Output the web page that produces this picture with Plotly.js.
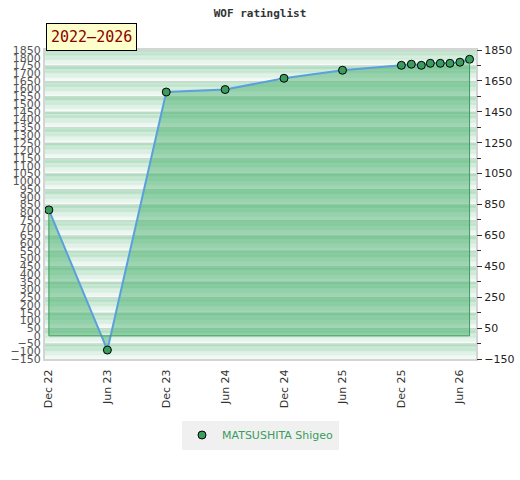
<!DOCTYPE html>
<html>
<head>
<meta charset="utf-8">
<script src="https://cdn.plot.ly/plotly-3.0.1.min.js"></script>
<style>html,body{margin:0;padding:0;background:#fff}#chart{width:520px;height:480px}</style>
</head>
<body>
<div id="chart"></div>
<script>
// ---- data ----
const dates = ['2022-12-01','2023-06-01','2023-12-01','2024-06-01','2024-12-01','2025-06-01',
               '2025-12-01','2026-01-01','2026-02-01','2026-03-01','2026-04-01','2026-05-01','2026-06-01','2026-07-01'];
const ratings = [815, -92, 1578, 1594, 1667, 1719, 1751, 1758, 1751, 1764, 1764, 1764, 1771, 1790];
const playerName = 'MATSUSHITA Shigeo';
const chartTitle = 'WOF ratinglist';
const periodLabel = '2022\u20132026';
const yMin = -150, yMax = 1850;

// ---- background stripes (style) ----
const shapes = [];
function mix(a, b, t) {
  return 'rgb(' + a.map((v, i) => Math.round(v + (b[i] - v) * t)).join(',') + ')';
}
const green = [168, 218, 186], white = [244, 250, 246];
for (let top = yMax; top > yMin; top -= 100) {
  const steps = 12, h = 100 / steps;
  for (let s = 0; s < steps; s++) {
    const y1 = top - s * h, y0 = y1 - h;
    shapes.push({type:'rect', xref:'paper', yref:'y', x0:0, x1:1, y0:y0, y1:y1,
      fillcolor: mix(green, white, s / (steps - 1)), line:{width:0}, layer:'below'});
  }
  shapes.push({type:'rect', xref:'paper', yref:'y', x0:0, x1:1, y0:top - 5, y1:top,
    fillcolor:'rgb(216,214,214)', line:{width:0}, layer:'below'});
}

const n = dates.length;
const markerStyle = {color:'#3a9d5d', size:8, line:{color:'#000', width:1}};
const traces = [
  {
    x: dates, y: ratings, type:'scatter', mode:'lines+markers', name: playerName, showlegend:false,
    fill:'tozeroy', fillcolor:'rgba(60,170,100,0.45)',
    line:{color:'#5aa0dc', width:2},
    marker: markerStyle
  },
  {
    x: [dates[0], dates[0], dates[n-1], dates[n-1]],
    y: [ratings[0], 0, 0, ratings[n-1]],
    type:'scatter', mode:'lines', showlegend:false, hoverinfo:'skip',
    line:{color:'#3f9a5c', width:1}
  },
  {
    x: [null], y: [null], type:'scatter', mode:'markers', name: playerName,
    showlegend:true, marker: markerStyle
  },
  {
    x: [dates[0]], y: [ratings[0]], yaxis:'y2', type:'scatter', mode:'markers',
    showlegend:false, hoverinfo:'skip', marker:{opacity:0}
  }
];

const layout = {
  width:520, height:480,
  margin:{l:45, r:44, t:50, b:121},
  paper_bgcolor:'#fff', plot_bgcolor:'#fff',
  title:{text:'<b>' + chartTitle + '</b>', x:0.5, xanchor:'center', y:0.973, yanchor:'middle',
    font:{family:'DejaVu Sans Mono', size:11, color:'#333'}},
  showlegend:true,
  legend:{orientation:'h', x:0.5, xanchor:'center', y:-0.246, yanchor:'middle',
    bgcolor:'#f0f0f0', font:{family:'DejaVu Sans', size:11, color:'#3a9d5d'}},
  xaxis:{type:'date', range:['2022-11-19','2026-07-21'],
    tick0:'2022-12-01', dtick:'M6', tickformat:'%b %y', tickangle:-90, ticklabelstandoff:4,
    showgrid:false, zeroline:false, ticks:'', showline:true, linecolor:'#d4d4d4', linewidth:2, mirror:true,
    tickfont:{family:'DejaVu Sans', size:11, color:'#333'}},
  yaxis:{range:[yMin, yMax], tick0:-150, dtick:50, showgrid:false, zeroline:false,
    showline:true, linecolor:'#d4d4d4', linewidth:2, mirror:true, ticks:'',
    tickfont:{family:'DejaVu Sans', size:11, color:'#555'}},
  yaxis2:{overlaying:'y', side:'right', range:[yMin, yMax], tick0:-150, dtick:200,
    showgrid:false, zeroline:false, ticks:'outside', ticklen:5, tickcolor:'#333',
    minor:{ticks:'outside', dtick:100, tick0:-150, ticklen:4, tickcolor:'#333', showgrid:false},
    tickfont:{family:'DejaVu Sans', size:11, color:'#222'}},
  shapes: shapes,
  annotations:[{
    text: periodLabel, xref:'paper', yref:'paper', x:0, y:1, xanchor:'left', yanchor:'bottom',
    xshift:1, yshift:-1,
    showarrow:false, bgcolor:'#ffffcc', bordercolor:'#000', borderwidth:1, borderpad:4,
    font:{family:'DejaVu Sans Mono', size:15, color:'#8b0000'}
  }]
};

Plotly.newPlot('chart', traces, layout, {displayModeBar:false, staticPlot:true});
</script>
</body>
</html>
